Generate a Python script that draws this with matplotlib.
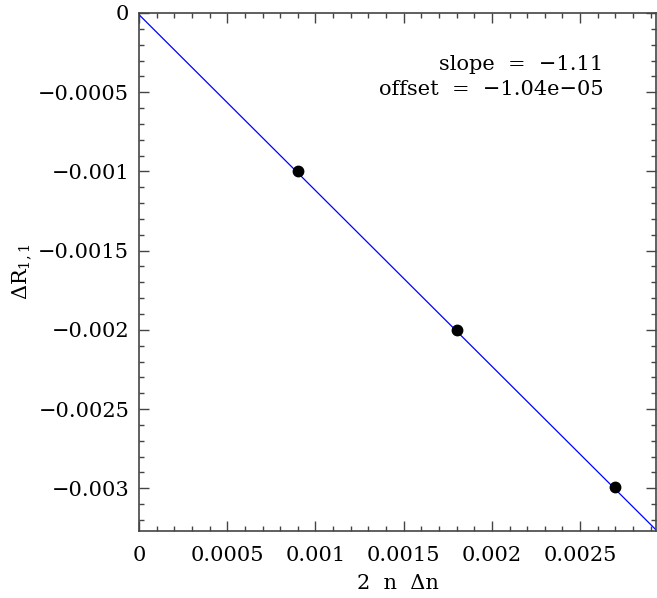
import matplotlib

matplotlib.use("Agg")

import matplotlib.pyplot as plt
import numpy as np
from matplotlib.ticker import MultipleLocator, FuncFormatter

# Veriler
x_pts = [0.0009, 0.0018, 0.0027]
y_pts = [-0.001, -0.002, -0.00299]
slope = -1.11
offset = -1.04e-05

x_lim = (0.0, 0.00293)
y_lim = (-0.00327, 0.0)
x_ticks = [0, 0.0005, 0.001, 0.0015, 0.002, 0.0025]
y_ticks = [0, -0.0005, -0.001, -0.0015, -0.002, -0.0025, -0.003]

plt.rcParams["font.family"] = ["DejaVu Serif"]
plt.rcParams["mathtext.fontset"] = "dejavuserif"

_AX = "#444444"
_FS = 15


def _fmt(v, _pos=None):
    if abs(v) < 1e-12:
        return "0"
    s = f"{v:.4f}".rstrip("0")
    return s.replace("-", "\u2212")


fig = plt.figure(figsize=(6.57, 5.98), dpi=100)
ax = fig.add_axes([139 / 657, 1 - 531 / 598, (656 - 139) / 657, (531 - 13) / 598])

xx = np.array(x_lim)
ax.plot(xx, slope * xx + offset, color="#0000ff", lw=0.9, zorder=2)
ax.plot(x_pts, y_pts, "o", color="black", ms=7.5, zorder=3)

ax.set_xlim(*x_lim)
ax.set_ylim(*y_lim)
ax.set_xticks(x_ticks)
ax.set_yticks(y_ticks)
ax.xaxis.set_major_formatter(FuncFormatter(_fmt))
ax.yaxis.set_major_formatter(FuncFormatter(_fmt))
ax.xaxis.set_minor_locator(MultipleLocator(0.0001))
ax.yaxis.set_minor_locator(MultipleLocator(0.0001))

ax.tick_params(which="both", direction="in", top=True, right=True, color=_AX)
ax.tick_params(which="major", length=7, width=1.0, labelsize=_FS)
ax.tick_params(which="minor", length=3.5, width=1.0)
ax.tick_params(axis="x", which="major", pad=11)
ax.tick_params(axis="y", which="major", pad=7)
for sp in ax.spines.values():
    sp.set_color(_AX)
    sp.set_linewidth(1.2)

ax.set_xlabel("2  n  \u0394n", fontsize=_FS, labelpad=6)
ax.set_ylabel(r"$\Delta \mathregular{R}_{1,1}$", fontsize=_FS, labelpad=4)

ax.text(0.898, 0.9, "slope  =  \u22121.11", transform=ax.transAxes,
        ha="right", va="center", fontsize=_FS)
ax.text(0.898, 0.852, "offset  =  \u22121.04e\u221205", transform=ax.transAxes,
        ha="right", va="center", fontsize=_FS)

fig.savefig("out.png", dpi=100)
